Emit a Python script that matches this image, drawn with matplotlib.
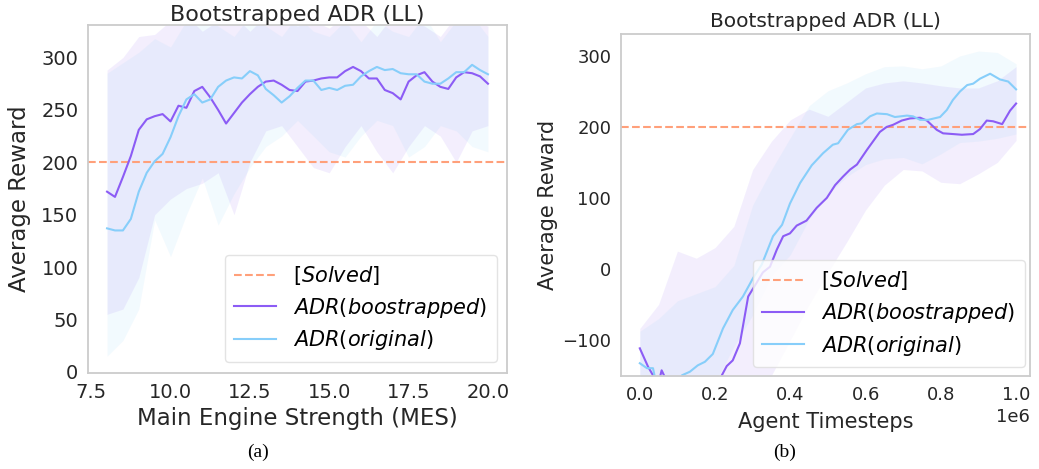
import numpy as np
import matplotlib
matplotlib.use("Agg")
import matplotlib.pyplot as plt

# ---------------- data: panel (a) ----------------
mes = [8.0 + 0.25 * k for k in range(49)]
boot_a = [172, 167, 186, 206, 231, 241, 244, 246, 239, 254, 252, 268, 272, 262, 250, 237,
          247, 257, 265, 272, 277, 278, 274, 269, 268, 277, 278, 280, 281, 281, 287, 291,
          287, 280, 280, 269, 266, 260, 277, 283, 286, 277, 272, 270, 281, 286, 285, 282, 275]
orig_a = [137, 135, 135, 146, 172, 190, 201, 208, 224, 244, 260, 265, 257, 260, 272, 278,
          281, 280, 287, 283, 270, 264, 257, 263, 271, 278, 278, 269, 271, 269, 273, 274,
          282, 287, 291, 288, 289, 285, 284, 284, 277, 275, 275, 280, 286, 286, 293, 288, 284]
band_x_a = [8, 8.5, 9, 9.5, 10, 10.5, 11, 11.5, 12, 12.5, 13, 13.5, 14, 14.5, 15, 15.5,
            16, 16.5, 17, 17.5, 18, 18.5, 19, 19.5, 20]
boot_lo_a = [55, 60, 90, 150, 165, 175, 180, 190, 150, 200, 230, 235, 215, 195, 190, 215,
             235, 210, 190, 215, 235, 225, 200, 230, 235]
boot_hi_a = [288, 300, 320, 322, 335, 340, 325, 335, 340, 325, 340, 335, 330, 335, 328, 340,
             335, 320, 340, 335, 330, 320, 340, 335, 330]
orig_lo_a = [15, 30, 60, 145, 110, 150, 185, 140, 170, 195, 215, 225, 240, 225, 210, 205,
             225, 240, 235, 205, 215, 235, 230, 215, 210]
orig_hi_a = [285, 295, 305, 318, 310, 335, 340, 330, 320, 340, 330, 320, 340, 325, 320, 335,
             315, 335, 325, 320, 340, 315, 335, 340, 320]

# ---------------- data: panel (b) ----------------
steps_orig_b = [0.000, 0.019, 0.035, 0.043, 0.066, 0.093, 0.112, 0.133, 0.154, 0.173, 0.194,
                0.221, 0.247, 0.274, 0.301, 0.324, 0.354, 0.378, 0.399, 0.426, 0.457, 0.487,
                0.513, 0.527, 0.553, 0.577, 0.590, 0.612, 0.630, 0.657, 0.678, 0.710, 0.726,
                0.745, 0.766, 0.798, 0.816, 0.832, 0.851, 0.870, 0.886, 0.904, 0.931, 0.957,
                0.979, 1.000]
orig_b = [-133, -140, -140, -160, -185, -170, -150, -145, -136, -131, -120,
          -84, -58, -39, -13, 6, 46, 62, 92, 121, 146, 163,
          175, 177, 196, 204, 205, 215, 219, 218, 214, 216, 215,
          210, 210, 214, 224, 238, 250, 259, 261, 268, 275, 267,
          264, 253]
steps_boot_b = [0.000, 0.022, 0.035, 0.048, 0.058, 0.066, 0.093, 0.133, 0.173, 0.199, 0.218,
                0.231, 0.247, 0.266, 0.288, 0.310, 0.327, 0.346, 0.364, 0.381, 0.399, 0.417,
                0.443, 0.470, 0.497, 0.519, 0.540, 0.559, 0.577, 0.604, 0.638, 0.656, 0.673,
                0.696, 0.718, 0.745, 0.763, 0.789, 0.806, 0.832, 0.856, 0.886, 0.904, 0.922,
                0.939, 0.963, 0.984, 1.000]
boot_b = [-112, -138, -150, -165, -143, -152, -190, -210, -190, -170, -150,
          -137, -129, -105, -39, -20, -5, 3, 27, 46, 50, 61,
          68, 86, 100, 118, 130, 140, 147, 168, 193, 200, 203,
          209, 212, 213, 209, 196, 191, 190, 189, 190, 197, 209,
          208, 204, 223, 233]
band_x_b = [0.0, 0.05, 0.1, 0.15, 0.2, 0.25, 0.3, 0.35, 0.4, 0.45, 0.5, 0.55, 0.6,
            0.65, 0.7, 0.75, 0.8, 0.85, 0.9, 0.95, 1.0]
boot_hi_b = [-84, -50, 25, 15, 30, 60, 140, 180, 210, 225, 215, 235, 255, 262, 265, 262,
             258, 255, 255, 265, 285]
boot_lo_b = [-260, -260, -260, -260, -260, -250, -200, -150, -100, -50, -5, 38, 83, 118,
             140, 138, 122, 120, 134, 150, 181]
orig_hi_b = [-88, -70, -45, -35, -25, 5, 90, 140, 185, 230, 251, 262, 275, 285, 286, 282,
             286, 300, 307, 305, 289]
orig_lo_b = [-200, -250, -250, -220, -160, -110, -65, -10, 20, 70, 105, 130, 147, 155, 157,
             148, 162, 178, 180, 184, 190]

solved = 200
scale_b = 1e6

C_BOOT = "#8c5cf5"
C_ORIG = "#87cefa"
C_SOLV = "#ffa07a"
TXT = "#262626"

plt.rcParams["font.family"] = ["DejaVu Sans"]
plt.rcParams["mathtext.fontset"] = "dejavusans"

fig = plt.figure(figsize=(10.39, 4.69), dpi=100)
W, H = 1039, 469


def ax_at(l, t, r, b):
    return fig.add_axes([l / W, 1 - b / H, (r - l) / W, (b - t) / H])


def style(ax, tsize):
    for s in ax.spines.values():
        s.set_color("#cccccc")
        s.set_linewidth(1.3)
    ax.tick_params(length=0, labelsize=tsize, colors=TXT, pad=7)
    ax.set_facecolor("white")


def add_legend(ax, anchor):
    ax.legend(loc="lower right", fontsize=15, frameon=True, edgecolor="#dddddd",
              borderpad=0.45, labelspacing=0.42, handlelength=2.0, handletextpad=0.85,
              borderaxespad=0.0, bbox_to_anchor=anchor)


axa = ax_at(88, 25, 507, 373)
axb = ax_at(621, 34, 1030, 376)

# panel (a)
axa.fill_between(band_x_a, boot_lo_a, boot_hi_a, color=C_BOOT, alpha=0.1, lw=0)
axa.fill_between(band_x_a, orig_lo_a, orig_hi_a, color=C_ORIG, alpha=0.1, lw=0)
axa.axhline(solved, color=C_SOLV, ls="--", lw=1.5, label=r"$[Solved]$")
axa.plot(mes, boot_a, color=C_BOOT, lw=1.5, label=r"$ADR(boostrapped)$")
axa.plot(mes, orig_a, color=C_ORIG, lw=1.5, label=r"$ADR(original)$")
axa.set_xlim(7.4, 20.6)
axa.set_ylim(-1, 331)
axa.set_xticks([7.5, 10.0, 12.5, 15.0, 17.5, 20.0])
axa.set_yticks([0, 50, 100, 150, 200, 250, 300])
axa.set_xlabel("Main Engine Strength (MES)", fontsize=16.5, color=TXT, labelpad=4)
axa.set_ylabel("Average Reward", fontsize=16.5, color=TXT, labelpad=7)
axa.set_title("Bootstrapped ADR (LL)", fontsize=16, color=TXT, pad=2)
style(axa, 14)
add_legend(axa, (0.976, 0.032))

# panel (b)
axb.fill_between(np.array(band_x_b) * scale_b, boot_lo_b, boot_hi_b, color=C_BOOT, alpha=0.1, lw=0)
axb.fill_between(np.array(band_x_b) * scale_b, orig_lo_b, orig_hi_b, color=C_ORIG, alpha=0.1, lw=0)
axb.axhline(solved, color=C_SOLV, ls="--", lw=1.5, label=r"$[Solved]$")
axb.plot(np.array(steps_boot_b) * scale_b, boot_b, color=C_BOOT, lw=1.5, label=r"$ADR(boostrapped)$")
axb.plot(np.array(steps_orig_b) * scale_b, orig_b, color=C_ORIG, lw=1.5, label=r"$ADR(original)$")
axb.set_xlim(-0.05 * scale_b, 1.037 * scale_b)
axb.set_ylim(-151, 331)
axb.set_yticks([-100, 0, 100, 200, 300])
axb.set_xlabel("Agent Timesteps", fontsize=15, color=TXT, labelpad=6)
axb.set_ylabel("Average Reward", fontsize=15, color=TXT, labelpad=3)
axb.set_title("Bootstrapped ADR (LL)", fontsize=14.5, color=TXT, pad=5)
style(axb, 13)
axb.xaxis.get_offset_text().set_fontsize(13)
axb.xaxis.get_offset_text().set_color(TXT)
add_legend(axb, (0.988, 0.026))

fig.text(258 / W, 1 - 452 / H, "(a)", family="Liberation Serif", fontsize=14,
         ha="center", va="center", color="black")
fig.text(785 / W, 1 - 452 / H, "(b)", family="Liberation Serif", fontsize=14,
         ha="center", va="center", color="black")

fig.savefig("out.png", dpi=100, facecolor="white")
